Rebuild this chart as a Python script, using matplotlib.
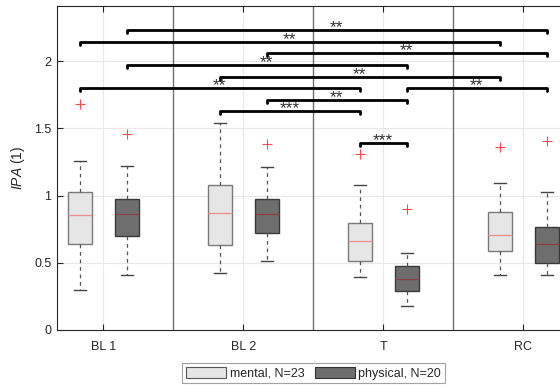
import numpy as np
import matplotlib.pyplot as plt
from matplotlib.patches import Patch

plt.rcParams["font.family"] = ["Liberation Sans", "DejaVu Sans"]
plt.rcParams["mathtext.fontset"] = "custom"
plt.rcParams["mathtext.it"] = "Liberation Sans:italic"
plt.rcParams["mathtext.rm"] = "Liberation Sans"

phases = ["BL 1", "BL 2", "T", "RC"]

# box statistics per phase: lower whisker, q1, median, q3, upper whisker
mental_lo = [0.297, 0.424, 0.392, 0.411]
mental_q1 = [0.637, 0.630, 0.515, 0.587]
mental_med = [0.855, 0.867, 0.664, 0.706]
mental_q3 = [1.028, 1.078, 0.793, 0.877]
mental_hi = [1.257, 1.541, 1.076, 1.095]
mental_out = [[1.678], [], [1.309], [1.358]]

physical_lo = [0.411, 0.511, 0.176, 0.411]
physical_q1 = [0.697, 0.719, 0.292, 0.496]
physical_med = [0.860, 0.860, 0.379, 0.637]
physical_q3 = [0.976, 0.971, 0.476, 0.763]
physical_hi = [1.217, 1.214, 0.575, 1.024]
physical_out = [[1.455], [1.380], [0.902], [1.405]]

# significance brackets: (phase a, group a, phase b, group b, height, stars)
sig_pairs = [
    (0, "p", 3, "p", 2.230, "**"),
    (0, "m", 3, "m", 2.141, "**"),
    (1, "p", 3, "p", 2.059, "**"),
    (0, "p", 2, "p", 1.970, "**"),
    (1, "m", 3, "m", 1.881, "**"),
    (0, "m", 2, "m", 1.799, "**"),
    (2, "p", 3, "p", 1.799, "**"),
    (1, "p", 2, "p", 1.710, "**"),
    (1, "m", 2, "m", 1.628, "***"),
    (2, "m", 2, "p", 1.390, "***"),
]

x = np.arange(1, len(phases) + 1)
off = 0.168
bw = 0.17
axcol = "#262626"

fig = plt.figure(figsize=(5.6, 3.87), dpi=100)
ax = fig.add_axes([0.1018, 0.1473, 0.915, 0.8372])
ax.set_xlim(0.67, 4.33)
ax.set_ylim(0, 2.41)

# grid and phase separators
for yv in [0.5, 1, 1.5, 2]:
    ax.axhline(yv, color="#e8e8e8", lw=0.8, zorder=0)
for xv in x:
    ax.axvline(xv, color="#e8e8e8", lw=0.8, zorder=0)
for xv in x[:-1] + 0.5:
    ax.axvline(xv, color="#707070", lw=1.0, zorder=1)


def draw_group(pos, lo, q1, med, q3, hi, out, face, edge, medcol):
    stats = [dict(whislo=a, q1=b, med=c, q3=d, whishi=e, fliers=f)
             for a, b, c, d, e, f in zip(lo, q1, med, q3, hi, out)]
    ax.bxp(stats, positions=pos, widths=bw, patch_artist=True,
           manage_ticks=False,
           boxprops=dict(facecolor=face, edgecolor=edge, lw=1.0),
           medianprops=dict(color=medcol, lw=0.9),
           whiskerprops=dict(color="#555555", lw=0.9, ls=(0, (3, 3))),
           capprops=dict(color="#444444", lw=1.0),
           capwidths=bw * 0.5,
           flierprops=dict(marker="+", markeredgecolor="#ff4a4a",
                           markersize=6.5, markeredgewidth=0.8))


draw_group(x - off, mental_lo, mental_q1, mental_med, mental_q3, mental_hi,
           mental_out, "#e6e6e6", "#7a7a7a", "#f08c8c")
draw_group(x + off, physical_lo, physical_q1, physical_med, physical_q3,
           physical_hi, physical_out, "#6e6e6e", "#3a3a3a", "#8a4040")

# significance brackets
tick_h = 0.02
for pa, ga, pb, gb, yb, stars in sig_pairs:
    xa = x[pa] + (off if ga == "p" else -off)
    xb = x[pb] + (off if gb == "p" else -off)
    ax.plot([xa, xa, xb, xb], [yb - tick_h, yb, yb, yb - tick_h],
            color="black", lw=2.0, solid_capstyle="round", zorder=5)
    ax.annotate(stars, ((xa + xb) / 2, yb), xytext=(0, -1.6),
                textcoords="offset points", ha="center", va="baseline",
                fontsize=12.5, color="#333333", zorder=6)

ax.set_xticks(x)
ax.set_xticklabels(phases)
ax.set_yticks([0, 0.5, 1, 1.5, 2])
ax.set_yticklabels(["0", "0.5", "1", "1.5", "2"])
ax.tick_params(axis="both", direction="in", length=4, width=0.8,
               colors=axcol, labelsize=9, top=True, right=True)
ax.tick_params(axis="x", pad=8)
ax.tick_params(axis="y", pad=4)
for s in ax.spines.values():
    s.set_color(axcol)
    s.set_linewidth(0.8)
ax.set_ylabel(r"$\it{IPA}$ (1)", fontsize=10, color=axcol, labelpad=5)

handles = [Patch(facecolor="#e6e6e6", edgecolor="#555555", lw=0.8),
           Patch(facecolor="#6e6e6e", edgecolor="#333333", lw=0.8)]
leg = fig.legend(handles, ["mental, N=23", "physical, N=20"], ncol=2,
                 loc="center", bbox_to_anchor=(0.56, 0.035), fontsize=9,
                 frameon=True, fancybox=False, edgecolor="#8a8a8a",
                 handlelength=3.2, handleheight=0.9, handletextpad=0.3,
                 columnspacing=0.8, borderpad=0.3, borderaxespad=0)
leg.get_frame().set_linewidth(0.8)
for t in leg.get_texts():
    t.set_color(axcol)

fig.savefig("out.png", dpi=100, facecolor="white")
